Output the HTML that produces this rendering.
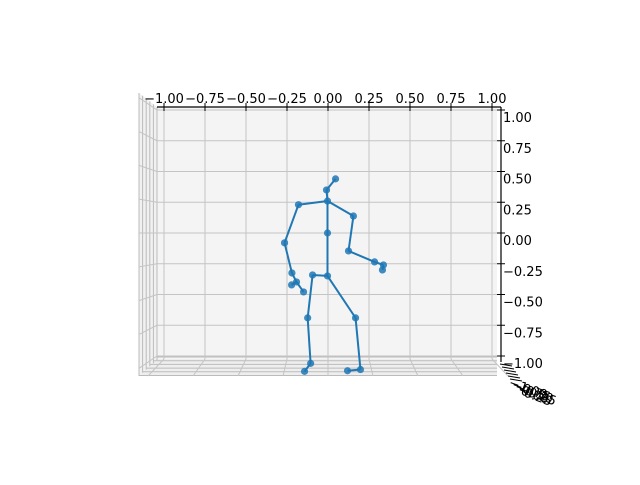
<!DOCTYPE html>
<html><head><meta charset="utf-8"><style>
body{margin:0;background:#fff}
svg text{font-family:"DejaVu Sans","Liberation Sans",sans-serif;font-size:13px;fill:#000}
</style></head><body>
<svg id="chart" width="640" height="480" viewBox="0 0 640 480" xmlns="http://www.w3.org/2000/svg">
<g id="panes"></g>
<g id="grid"></g>
<g id="axes"></g>
<g id="skel"></g>
</svg>
<script>
const xTicks=[-1,-0.75,-0.5,-0.25,0,0.25,0.5,0.75,1];
const yTicks=[1,0.75,0.5,0.25,0,-0.25,-0.5,-0.75,-1];
const tickLabels=["−1.00","−0.75","−0.50","−0.25","0.00","0.25","0.50","0.75","1.00"];
const yTickLabels=["1.00","0.75","0.50","0.25","0.00","−0.25","−0.50","−0.75","−1.00"];
const jointX=[0.046,-0.009,-0.003,-0.18,-0.265,-0.22,-0.192,-0.222,-0.149,0.155,0.125,0.284,0.338,0.332,-0.003,-0.003,-0.094,-0.124,-0.106,-0.143,0.168,0.198,0.119];
const jointY=[0.44,0.35,0.26,0.23,-0.08,-0.325,-0.398,-0.422,-0.479,0.138,-0.146,-0.235,-0.26,-0.30,0,-0.349,-0.341,-0.69,-1.06,-1.125,-0.69,-1.11,-1.12];
const edgesFrom=[0,1,2,3,4,5,6,6,2,9,10,11,12,2,14,15,16,17,18,15,20,21];
const edgesTo  =[1,2,3,4,5,6,7,8,9,10,11,12,13,14,15,16,17,18,19,20,21,22];
const NS="http://www.w3.org/2000/svg";
const sx=v=>328+v*164, sy=v=>233-v*123;
function mk(p,tag,a){const e=document.createElementNS(NS,tag);for(const k in a)e.setAttribute(k,a[k]);p.appendChild(e);return e;}
const panes=document.getElementById('panes'),grid=document.getElementById('grid'),axes=document.getElementById('axes'),sk=document.getElementById('skel');
let bp=mk(panes,'rect',{x:sx(-1)-7,y:sy(1)-3,width:sx(1)-sx(-1)+12,height:sy(-1)-sy(1)+6,fill:'#f4f4f4'});

mk(panes,'polygon',{points:`139,93 157,${sy(1)-3} 157,${sy(-1)+3} 139,376`,fill:'#f1f1f1'});
mk(panes,'polygon',{points:`139,376 157,${sy(-1)+3} ${sx(1)+5},${sy(-1)+3} 497,376`,fill:'#eeeeee'});
for(let i=0;i<6;i++){const x=139+i*3.6;mk(grid,'line',{x1:x,y1:93+i*2.8,x2:x,y2:376-i*3.2,stroke:'#bbb','stroke-width':1});}
for(let i=0;i<6;i++){const y=357+i*3.7;mk(grid,'line',{x1:157-i*3.6,y1:y,x2:497,y2:y,stroke:'#bbb','stroke-width':1});}
xTicks.forEach((v,i)=>{
 const l=mk(grid,'line',{x1:sx(v),y1:sy(1)-3,x2:sx(v),y2:sy(-1)+3,stroke:'#c4c4c4','stroke-width':1});
 
 mk(grid,'line',{x1:sx(v),y1:sy(-1)+3,x2:sx(v)+v*16,y2:376,stroke:'#c4c4c4','stroke-width':1});
 mk(axes,'line',{x1:sx(v),y1:103,x2:sx(v),y2:111,stroke:'#000','stroke-width':1});
 const tx=mk(axes,'text',{x:sx(v),y:103,'text-anchor':'middle'});tx.textContent=tickLabels[i];
 
});
yTicks.forEach((v,i)=>{
 const l=mk(grid,'line',{x1:sx(-1)-7,y1:sy(v),x2:sx(1)+5,y2:sy(v),stroke:'#c4c4c4','stroke-width':1});
 
 mk(grid,'line',{x1:139,y1:233+(sy(v)-233)*1.1,x2:157,y2:sy(v),stroke:'#c4c4c4','stroke-width':1});
 mk(axes,'line',{x1:497,y1:sy(v),x2:505,y2:sy(v),stroke:'#000','stroke-width':1});
 const tx=mk(axes,'text',{x:503,y:sy(v)+12});tx.textContent=yTickLabels[i];
 
});
mk(axes,'line',{x1:157,y1:107,x2:501,y2:107,stroke:'#000','stroke-width':1.2});
mk(axes,'line',{x1:501,y1:107,x2:501,y2:362,stroke:'#000','stroke-width':1.2});
for(let i=0;i<6;i++){mk(axes,'line',{x1:500+i*2,y1:364+i*3,x2:512+i*2,y2:366+i*3,stroke:'#000','stroke-width':1});
 const t=mk(axes,'text',{x:508+i*3,y:386+i*2,transform:`rotate(20 ${508+i*3} ${386+i*2})`});t.textContent=yTickLabels[8-i];
 }
edgesFrom.forEach((a,i)=>{const b=edgesTo[i];
 const l=mk(sk,'line',{x1:sx(jointX[a]),y1:sy(jointY[a]),x2:sx(jointX[b]),y2:sy(jointY[b]),stroke:'#1f77b4','stroke-width':2});
 });
jointX.forEach((x,i)=>{const c=mk(sk,'circle',{cx:sx(x),cy:sy(jointY[i]),r:3.6,fill:'#1f77b4','fill-opacity':0.85});
 });
</script>
</body></html>
